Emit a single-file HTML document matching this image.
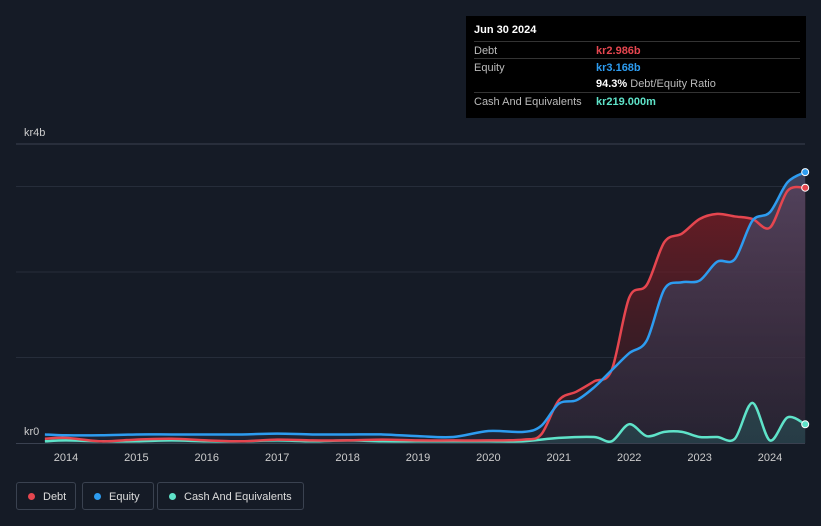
<!DOCTYPE html>
<html><head><meta charset="utf-8"><style>
body{margin:0;background:#151b26;font-family:"Liberation Sans",sans-serif;}
#wrap{position:relative;width:821px;height:526px;overflow:hidden;background:#151b26;}
.tip{position:absolute;left:466px;top:16px;width:340px;height:102px;background:#000;color:#fff;font-size:11px;}
.tip .row{position:absolute;left:8px;right:6px;height:17px;border-top:1px solid #333;}
.tip .l{position:absolute;left:0;top:3px;color:#bbb;}
.tip .v{position:absolute;left:122px;top:3px;font-weight:bold;}
.leg{position:absolute;top:482px;height:28px;border:1px solid #3a4250;border-radius:3px;color:#ddd;font-size:11px;line-height:28px;box-sizing:border-box;}
.dot{display:inline-block;width:7px;height:7px;border-radius:50%;margin:0 8px 0 11px;}
</style></head><body>
<div id="wrap">
<svg id="chart" width="821" height="526" style="position:absolute;left:0;top:0">
<defs>
<linearGradient id="gd" x1="0" y1="0" x2="0" y2="1"><stop offset="0" stop-color="#8b1c24" stop-opacity="0.75"/><stop offset="1" stop-color="#3a1c24" stop-opacity="0.4"/></linearGradient>
<linearGradient id="ge" x1="0" y1="0" x2="0" y2="1"><stop offset="0" stop-color="#4a4d6c" stop-opacity="0.8"/><stop offset="1" stop-color="#2a2f45" stop-opacity="0.4"/></linearGradient>
</defs>
</svg>
<div class="tip">
<div style="position:absolute;left:8px;top:8px;font-weight:bold;font-size:11px">Jun 30 2024</div>
<div class="row" style="top:25px"><span class="l">Debt</span><span class="v" style="color:#e5464f">kr2.986b</span></div>
<div class="row" style="top:42px"><span class="l">Equity</span><span class="v" style="color:#2d9cf0">kr3.168b</span></div>
<div class="row" style="top:59px;border-top:none"><span class="v" style="color:#fff">94.3% <span style="color:#bbb;font-weight:normal">Debt/Equity Ratio</span></span></div>
<div class="row" style="top:76px"><span class="l">Cash And Equivalents</span><span class="v" style="color:#5fe3c9">kr219.000m</span></div>
</div>
<div class="leg" style="left:16px;width:60px"><span class="dot" style="background:#e5464f"></span>Debt</div>
<div class="leg" style="left:82px;width:72px"><span class="dot" style="background:#2d9cf0"></span>Equity</div>
<div class="leg" style="left:157px;width:147px"><span class="dot" style="background:#5fe3c9"></span>Cash And Equivalents</div>
</div>
<script>
const debtT=[2013.7,2014,2014.5,2015,2015.5,2016,2016.5,2017,2017.5,2018,2018.5,2019,2019.5,2020,2020.5,2020.75,2021,2021.25,2021.5,2021.75,2022,2022.25,2022.5,2022.75,2023,2023.25,2023.5,2023.75,2024,2024.25,2024.5];
const debtV=[0.05,0.06,0.02,0.04,0.05,0.03,0.02,0.04,0.03,0.03,0.04,0.03,0.03,0.03,0.04,0.1,0.5,0.6,0.72,0.85,1.7,1.85,2.35,2.45,2.62,2.68,2.65,2.62,2.52,2.95,2.986];
const eqT=[2013.7,2014,2014.5,2015,2015.5,2016,2016.5,2017,2017.5,2018,2018.5,2019,2019.5,2020,2020.5,2020.75,2021,2021.25,2021.5,2021.75,2022,2022.25,2022.5,2022.75,2023,2023.25,2023.5,2023.75,2024,2024.25,2024.5];
const eqV=[0.1,0.09,0.09,0.1,0.1,0.1,0.1,0.11,0.1,0.1,0.1,0.08,0.07,0.14,0.13,0.2,0.46,0.5,0.65,0.85,1.05,1.2,1.8,1.88,1.9,2.12,2.15,2.6,2.7,3.05,3.168];
const cashT=[2013.7,2014,2014.5,2015,2015.5,2016,2016.5,2017,2017.5,2018,2018.5,2019,2019.5,2020,2020.5,2021,2021.5,2021.75,2022,2022.25,2022.5,2022.75,2023,2023.25,2023.5,2023.75,2024,2024.25,2024.5];
const cashV=[0.02,0.03,0.02,0.02,0.03,0.02,0.02,0.03,0.02,0.03,0.02,0.02,0.02,0.02,0.02,0.06,0.07,0.02,0.22,0.08,0.13,0.13,0.07,0.07,0.05,0.47,0.03,0.3,0.219];
const yearTicks=[2014,2015,2016,2017,2018,2019,2020,2021,2022,2023,2024];
const gridVals=[1,2,3];
const NS='http://www.w3.org/2000/svg';
const svg=document.getElementById('chart');
const X=t=>66+(t-2014)*70.4;
const Y=v=>443-v*85.5;
function el(tag,attrs,parent){const e=document.createElementNS(NS,tag);for(const k in attrs)e.setAttribute(k,attrs[k]);(parent||svg).appendChild(e);return e;}
function path(T,V){const p=T.map((t,i)=>[X(t),Y(V[i])]);let d='M'+p[0][0]+','+p[0][1];
for(let i=0;i<p.length-1;i++){const p0=p[i-1]||p[i],p1=p[i],p2=p[i+1],p3=p[i+2]||p2;const k=0.16;
d+=' C'+(p1[0]+(p2[0]-p0[0])*k)+','+(p1[1]+(p2[1]-p0[1])*k)+' '+(p2[0]-(p3[0]-p1[0])*k)+','+(p2[1]-(p3[1]-p1[1])*k)+' '+p2[0]+','+p2[1];}return d;}
let g=el('line',{x1:16,x2:805,y1:144,y2:144,stroke:'#3a4150','stroke-width':1});

gridVals.forEach(v=>{const l=el('line',{x1:16,x2:805,y1:Y(v),y2:Y(v),stroke:'#262d3a','stroke-width':1});
});
const base=el('line',{x1:16,x2:805,y1:443.5,y2:443.5,stroke:'#3a4150'});

function area(T,V,fill,name){const d=path(T,V)+' L'+X(T[T.length-1])+','+Y(0)+' L'+X(T[0])+','+Y(0)+'Z';const a=el('path',{d:d,fill:fill});
}
area(debtT,debtV,'url(#gd)','debt-area');
area(eqT,eqV,'url(#ge)','equity-area');
area(cashT,cashV,'rgba(40,110,110,0.35)','cash-area');
function line(T,V,c,name){const l=el('path',{d:path(T,V),fill:'none',stroke:c,'stroke-width':2.5});

const d=el('circle',{cx:X(T[T.length-1]),cy:Y(V[V.length-1]),r:3.5,fill:c,stroke:'#fff','stroke-width':1});
}
line(cashT,cashV,'#5fe3c9','cash-line');
line(debtT,debtV,'#e5464f','debt-line');
line(eqT,eqV,'#2d9cf0','equity-line');
yearTicks.forEach(y=>{const t=el('text',{x:X(y),y:461,fill:'#ccc','font-size':11,'text-anchor':'middle'});t.textContent=y;
});
const y1=el('text',{x:24,y:136,fill:'#ccc','font-size':11});y1.textContent='kr4b';

const y0=el('text',{x:24,y:435,fill:'#ccc','font-size':11});y0.textContent='kr0';

</script>
</body></html>
